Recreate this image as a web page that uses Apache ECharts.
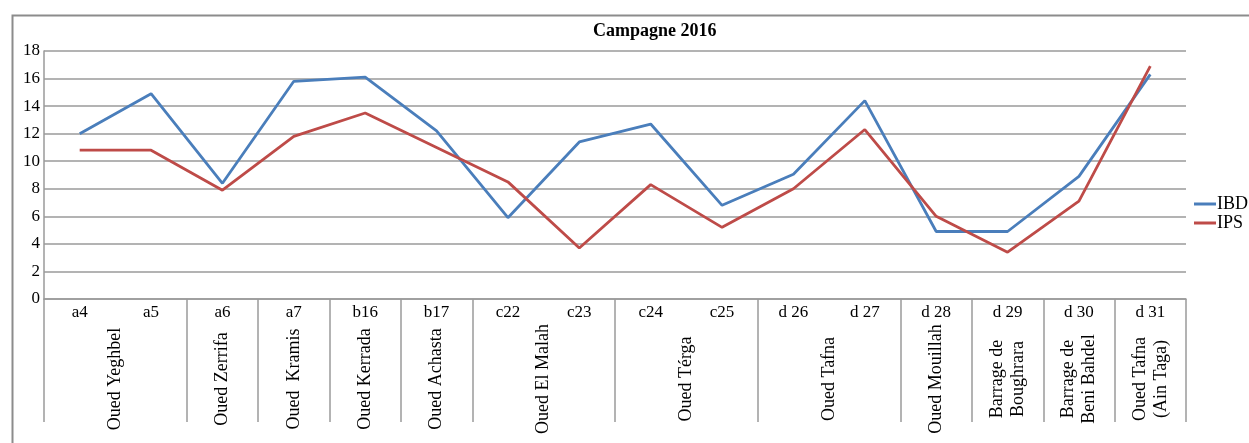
<!DOCTYPE html>
<html>
<head>
<meta charset="utf-8">
<script src="https://cdn.jsdelivr.net/npm/echarts@6/dist/echarts.min.js"></script>
<style>
html,body{margin:0;padding:0;background:#fff;}
#chart{width:1249px;height:443px;}
</style>
</head>
<body>
<div id="chart"></div>
<script>
const stations = ['a4','a5','a6','a7','b16','b17','c22','c23','c24','c25','d 26','d 27','d 28','d 29','d 30','d 31'];
const groups = ['Oued Yeghbel','Oued Zerrifa','Oued  Kramis','Oued Kerrada','Oued Achasta','Oued El Malah','Oued Térga','Oued Tafna','Oued Mouillah','Barrage de\nBoughrara','Barrage de\nBeni Bahdel','Oued Tafna\n(Ain Taga)'];
const groupSizes = [2,1,1,1,1,2,2,2,1,1,1,1];
const ibd = [12.0,14.9,8.4,15.8,16.1,12.2,5.9,11.4,12.7,6.8,9.05,14.4,4.9,4.9,8.9,16.3];
const ips = [10.8,10.8,7.9,11.8,13.5,11.0,8.5,3.7,8.3,5.2,8.0,12.3,6.0,3.4,7.1,16.9];
const yTicks = [0,2,4,6,8,10,12,14,16,18];

// half-unit positions for the group axis
const halfCount = stations.length * 2 + 1;
const halfCats = [];
for (let i = 0; i < halfCount; i++) halfCats.push(String(i));
const boundarySet = new Set([0]);
const labelAt = {};
let pos = 0;
groups.forEach((g, i) => {
  const w = groupSizes[i] * 2;
  labelAt[pos + w / 2] = g;
  pos += w;
  boundarySet.add(pos);
});

const font = 'Liberation Serif, Times New Roman, serif';
const gridColor = '#9a9a9a';

const chart = echarts.init(document.getElementById('chart'));
chart.setOption({
  animation: false,
  backgroundColor: '#fff',
  textStyle: { fontFamily: font, color: '#000' },
  graphic: [{
    type: 'rect', left: 10, top: 13, z: -10,
    shape: { width: 1300, height: 500 },
    style: { fill: 'none', stroke: '#8c8c8c', lineWidth: 2 }
  }],
  title: {
    text: 'Campagne 2016', left: 588, top: 17,
    textStyle: { fontFamily: font, fontSize: 18, fontWeight: 'bold', color: '#000' }
  },
  legend: {
    data: ['IBD', 'IPS'], orient: 'vertical', left: 1189, top: 190,
    icon: 'rect', itemWidth: 22, itemHeight: 3, itemGap: 1,
    textStyle: { fontFamily: font, fontSize: 18, color: '#000', padding: [0,0,0,-4] }
  },
  grid: { left: 44, right: 63, top: 51, bottom: 144, containLabel: false },
  xAxis: [{
    type: 'category', data: stations, position: 'bottom', boundaryGap: true,
    axisLine: { show: true, lineStyle: { color: gridColor, width: 1.5 } },
    axisTick: { show: false },
    axisLabel: { interval: 0, margin: 5, fontSize: 17, fontFamily: font, color: '#000' },
    splitLine: { show: false }
  }, {
    type: 'category', data: halfCats, position: 'bottom', boundaryGap: false,
    axisLine: { show: false },
    axisTick: { show: true, length: 123, interval: (idx) => boundarySet.has(idx),
      lineStyle: { color: gridColor, width: 1.5 } },
    axisLabel: { interval: 0, rotate: 90, align: 'center', verticalAlign: 'middle',
      margin: 80, fontSize: 18, lineHeight: 21, fontFamily: font, color: '#000',
      formatter: (v, idx) => labelAt[idx] || '' },
    splitLine: { show: false }
  }],
  yAxis: {
    type: 'value', min: yTicks[0], max: yTicks[yTicks.length - 1], interval: 2,
    axisLine: { show: true, lineStyle: { color: gridColor, width: 1.5 } },
    axisTick: { show: false },
    axisLabel: { margin: 4, fontSize: 17, fontFamily: font, color: '#000' },
    splitLine: { show: true, lineStyle: { color: gridColor, width: 1.5 } }
  },
  series: [{
    name: 'IBD', type: 'line', data: ibd, xAxisIndex: 0, symbol: 'none',
    color: '#4a7ebb', lineStyle: { color: '#4a7ebb', width: 2.8 }
  }, {
    name: 'IPS', type: 'line', data: ips, xAxisIndex: 0, symbol: 'none',
    color: '#be4b48', lineStyle: { color: '#be4b48', width: 2.8 }
  }]
});
</script>
</body>
</html>
